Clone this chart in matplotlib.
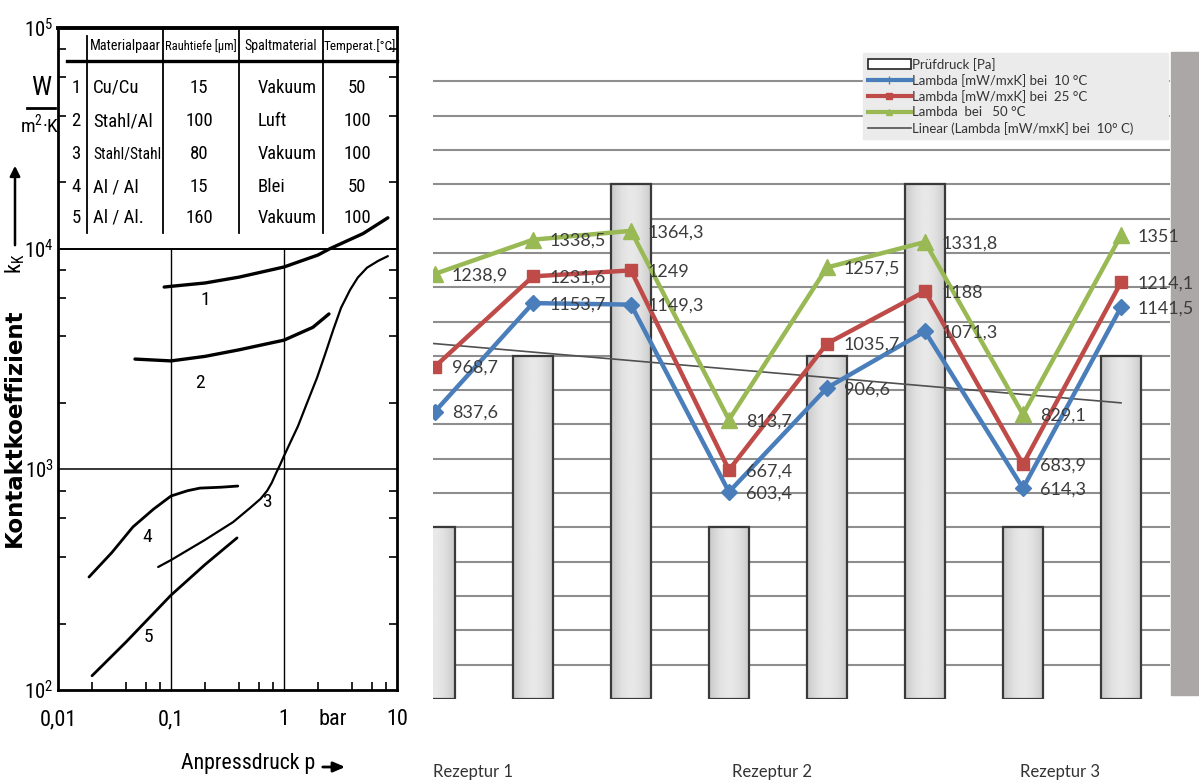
import numpy as np
import matplotlib
matplotlib.use("Agg")
import matplotlib.pyplot as plt
from matplotlib.lines import Line2D
from matplotlib.patches import Patch, Rectangle, FancyArrowPatch
from matplotlib.ticker import LogLocator, NullFormatter

NARROW = ["Roboto Condensed", "Liberation Sans", "DejaVu Sans"]
plt.rcParams["font.family"] = NARROW
plt.rcParams["mathtext.fontset"] = "custom"
plt.rcParams["mathtext.rm"] = "Roboto Condensed"

# ---- left chart: contact coefficient vs. pressure (log-log) ----
curve1_p = [0.087, 0.1, 0.2, 0.4, 1.0, 2.0, 2.55, 5.0, 8.3]
curve1_k = [6700, 6750, 6990, 7430, 8260, 9360, 10000, 11700, 13800]
curve2_p = [0.048, 0.1, 0.2, 0.4, 1.0, 1.8, 2.5]
curve2_k = [3160, 3100, 3250, 3480, 3850, 4400, 5060]
curve3_p = [0.077, 0.1, 0.2, 0.355, 0.5, 0.62, 0.71, 0.78, 0.85, 0.92, 1.0,
            1.15, 1.33, 1.6, 1.96, 2.3, 2.72, 3.2, 3.84, 4.5, 5.43, 6.8, 8.3]
curve3_k = [361, 388, 479, 577, 668, 735, 800, 870, 960, 1045, 1150,
            1340, 1570, 2000, 2600, 3300, 4270, 5400, 6500, 7400, 8200, 8800, 9250]
curve4_p = [0.0188, 0.03, 0.046, 0.07, 0.1, 0.14, 0.18, 0.28, 0.39]
curve4_k = [325, 420, 548, 660, 757, 800, 822, 830, 840]
curve5_p = [0.02, 0.04, 0.1, 0.2, 0.384]
curve5_k = [116, 165, 269, 370, 489]
curve_ids = ["1", "2", "3", "4", "5"]

table_header = ["Materialpaar", "Rauhtiefe [µm]", "Spaltmaterial", "Temperat.[°C]"]
table_rows = [
    ["1", "Cu/Cu", "15", "Vakuum", "50"],
    ["2", "Stahl/Al", "100", "Luft", "100"],
    ["3", "Stahl/Stahl", "80", "Vakuum", "100"],
    ["4", "Al / Al", "15", "Blei", "50"],
    ["5", "Al / Al.", "160", "Vakuum", "100"],
]

# ---- right chart: Prüfdruck bars and Lambda lines ----
pruefdruck = [500, 1000, 1500, 500, 1000, 1500, 500, 1000]
lambda_10 = [837.6, 1153.7, 1149.3, 603.4, 906.6, 1071.3, 614.3, 1141.5]
lambda_25 = [968.7, 1231.6, 1249, 667.4, 1035.7, 1188, 683.9, 1214.1]
lambda_50 = [1238.9, 1338.5, 1364.3, 813.7, 1257.5, 1331.8, 829.1, 1351]
trend_x = [-0.02, 7]
trend_y = [1036, 863]
rezepturen = ["Rezeptur 1", "Rezeptur 2", "Rezeptur 3"]

W, H = 1199, 784
fig = plt.figure(figsize=(W / 100, H / 100), dpi=100)
renderer = fig.canvas.get_renderer()


def fx(px):
    return px / W


def fy(py):
    return 1 - py / H


def fit(t, maxw):
    # shrink a text until it fits into maxw pixels
    while t.get_window_extent(renderer).width > maxw and t.get_fontsize() > 5:
        t.set_fontsize(t.get_fontsize() - 0.25)
    return t


# ================= left =================
ax1 = fig.add_axes([fx(58), fy(690), (397 - 58) / W, (690 - 28) / H])
ax1.set_xscale("log")
ax1.set_yscale("log")
ax1.set_xlim(0.01, 10)
ax1.set_ylim(100, 1e5)
for s in ["left", "bottom", "right"]:
    ax1.spines[s].set_linewidth(2)
ax1.spines["top"].set_linewidth(2.8)

ax1.set_xticks([0.01, 0.1, 1, 2.7, 10])
ax1.set_xticklabels(["0,01", "0,1", "1", "bar", "10"], fontsize=16)
ax1.set_yticks([1e2, 1e3, 1e4, 1e5])
ax1.set_yticklabels([r"$\mathregular{10^%d}$" % e for e in (2, 3, 4, 5)], fontsize=15)
ax1.tick_params(which="major", length=0)
ax1.tick_params(axis="x", which="major", pad=14)
ax1.tick_params(axis="y", which="major", pad=3)
ax1.xaxis.set_minor_locator(LogLocator(base=10, subs=(2, 4, 6, 8)))
ax1.yaxis.set_minor_locator(LogLocator(base=10, subs=(2, 4, 6, 8)))
ax1.xaxis.set_minor_formatter(NullFormatter())
ax1.yaxis.set_minor_formatter(NullFormatter())
ax1.tick_params(which="minor", direction="in", length=6, width=1.2,
                left=True, right=True, bottom=True, top=False)

# grid lines
ax1.axhline(1e3, color="black", lw=1.1)
ax1.axhline(1e4, color="black", lw=1.4)
for xv in (0.1, 1):
    ax1.plot([xv, xv], [100, 1e4], color="black", lw=1.0)

# curves
for cp, ck, lw in [(curve1_p, curve1_k, 2.4), (curve2_p, curve2_k, 2.4),
                   (curve3_p, curve3_k, 1.6), (curve4_p, curve4_k, 2.0),
                   (curve5_p, curve5_k, 2.0)]:
    ax1.plot(cp, ck, color="black", lw=lw, solid_capstyle="round", solid_joinstyle="round")

label_pos = [(0.2, 5850), (0.18, 2460), (0.71, 711), (0.061, 493), (0.063, 174)]
for cid, (lx, ly) in zip(curve_ids, label_pos):
    ax1.text(lx, ly, cid, fontsize=14, ha="center", va="center")


# table inside the axes (pixel layout -> axes fraction)
def tx(px):
    return (px - 58) / (397 - 58)


def ty(py):
    return (690 - py) / (690 - 28)


ax1.plot([tx(67), tx(397)], [ty(61), ty(61)], color="black", lw=2.4,
         transform=ax1.transAxes, clip_on=False)
ax1.plot([tx(87), tx(87)], [ty(36), ty(233)], color="black", lw=1.3,
         transform=ax1.transAxes)
for cx in (163, 239, 323):
    ax1.plot([tx(cx), tx(cx)], [ty(28), ty(233)], color="black", lw=1.3,
             transform=ax1.transAxes)

header_x = [125, 201, 281, 360]
for hx, htxt in zip(header_x, table_header):
    t = ax1.text(tx(hx), ty(46), htxt, fontsize=11.5, ha="center", va="center",
                 transform=ax1.transAxes)
    fit(t, 73)
row_y = [88, 121, 154, 187, 218]
for ry, row in zip(row_y, table_rows):
    kw = dict(fontsize=13.5, va="center", transform=ax1.transAxes)
    ax1.text(tx(76), ty(ry), row[0], ha="center", **kw)
    fit(ax1.text(tx(93), ty(ry), row[1], ha="left", **kw), 69)
    ax1.text(tx(199), ty(ry), row[2], ha="center", **kw)
    fit(ax1.text(tx(258), ty(ry), row[3], ha="left", **kw), 60)
    ax1.text(tx(357), ty(ry), row[4], ha="center", **kw)

# y-axis label pieces
fig.text(fx(41), fy(88), "W", fontsize=19, ha="center", va="center")
fig.add_artist(Line2D([fx(27), fx(55)], [fy(108), fy(108)], color="black", lw=2))
fig.text(fx(40), fy(124), r"m$\mathregular{^2}$·K", fontsize=14, ha="center", va="center")
fig.add_artist(FancyArrowPatch((fx(15), fy(248)), (fx(15), fy(163)),
                               transform=fig.transFigure,
                               arrowstyle="-|>,head_length=6,head_width=3",
                               color="black", lw=1.8))
fig.text(fx(15), fy(264), r"k$_\mathregular{K}$", fontsize=16, rotation=90,
         ha="center", va="center")
fig.text(fx(14), fy(428), "Kontaktkoeffizient", fontsize=16.5, rotation=90,
         fontweight="bold", family="DejaVu Sans", ha="center", va="center")
fit(fig.text(fx(181), fy(764), "Anpressdruck p", fontsize=19, ha="left", va="center"), 136)
fig.add_artist(FancyArrowPatch((fx(320), fy(767)), (fx(348), fy(767)),
                               transform=fig.transFigure,
                               arrowstyle="-|>,head_length=7,head_width=3",
                               color="black", lw=2))

# ================= right =================
ax2 = fig.add_axes([fx(433), fy(699), (1170 - 433) / W, (699 - 47) / H])
x = np.arange(len(pruefdruck))
bw = 40 / 98
xlim = (-0.02, 7.5)
ax2.set_axisbelow(True)
bars = ax2.bar(x, pruefdruck, width=bw, color="#dcdcdc", edgecolor="none", zorder=2)
grad = (0.79 + 0.12 * np.sin(np.linspace(0, np.pi, 40)))[None, :]
for r in bars:
    x0, x1 = r.get_x(), r.get_x() + r.get_width()
    g = grad
    if x0 < xlim[0]:
        keep = int(round(grad.shape[1] * (x1 - xlim[0]) / (x1 - x0)))
        g = grad[:, -keep:]
        x0 = xlim[0]
    ax2.imshow(g, extent=(x0, x1, 0, r.get_height()), cmap="gray", vmin=0, vmax=1,
               aspect="auto", zorder=2.5, interpolation="bilinear")
ax2.bar(x, pruefdruck, width=bw, fill=False, edgecolor="#3a3a3a", lw=1.6, zorder=3)

ax2.plot(trend_x, trend_y, color="#505050", lw=1.2, zorder=4)
series = [
    (lambda_10, "#4a7ebb", "D", 8),
    (lambda_25, "#be4b48", "s", 9),
    (lambda_50, "#98b954", "^", 11),
]
for vals, col, mk, ms in series:
    ax2.plot(x, vals, color=col, lw=3.2, marker=mk, ms=ms, zorder=5)
    for xi, v in zip(x, vals):
        lab = ("%.1f" % v).replace(".", ",")
        if lab.endswith(",0"):
            lab = lab[:-2]
        ax2.annotate(lab, (xi, v), xytext=(12, -1), textcoords="offset points",
                     ha="left", va="center", fontsize=13, color="#3c3c3c",
                     family=["Lato", "DejaVu Sans"], zorder=6, annotation_clip=False)

ax2.set_xlim(*xlim)
ax2.set_ylim(0, 1900)
ax2.set_yticks(np.arange(100, 1900, 100))
ax2.yaxis.grid(True, color="#8e8e8e", lw=1.5)
ax2.tick_params(length=0, labelleft=False, labelbottom=False)
for s in ax2.spines.values():
    s.set_visible(False)

handles = [
    Patch(facecolor="white", edgecolor="#222222", lw=1.2),
    Line2D([], [], color="#4a7ebb", lw=3, marker="|", ms=6),
    Line2D([], [], color="#be4b48", lw=3, marker="s", ms=5),
    Line2D([], [], color="#98b954", lw=3, marker="^", ms=5),
    Line2D([], [], color="#505050", lw=1.2),
]
labels = [
    "Prüfdruck [Pa]",
    "Lambda [mW/mxK] bei  10 °C",
    "Lambda [mW/mxK] bei  25 °C",
    "Lambda  bei   50 °C",
    "Linear (Lambda [mW/mxK] bei  10° C)",
]
leg = ax2.legend(handles, labels, loc="upper left",
                 bbox_to_anchor=(fx(863), fy(157), (1168 - 863) / W, (157 - 53) / H),
                 bbox_transform=fig.transFigure, mode="expand",
                 frameon=True, fancybox=False, facecolor="#ebebeb", edgecolor="#ebebeb",
                 framealpha=1, handlelength=3.3, handletextpad=0.1, labelspacing=0.25,
                 borderpad=0.35, borderaxespad=0,
                 prop={"family": ["Lato", "DejaVu Sans"], "size": 9.5})
for t in leg.get_texts():
    t.set_color("#333333")
leg.set_zorder(10)

band = Rectangle((fx(1171), fy(695)), 28 / W, (695 - 52) / H,
                 transform=fig.transFigure, color="#aca7a7", zorder=-1)
fig.patches.append(band)

for rx, rt in zip([433, 732, 1020], rezepturen):
    fig.text(fx(rx), fy(772), rt, fontsize=12, ha="left", va="center",
             color="#333333", family=["Lato", "DejaVu Sans"])

fig.savefig("out.png", dpi=100)
